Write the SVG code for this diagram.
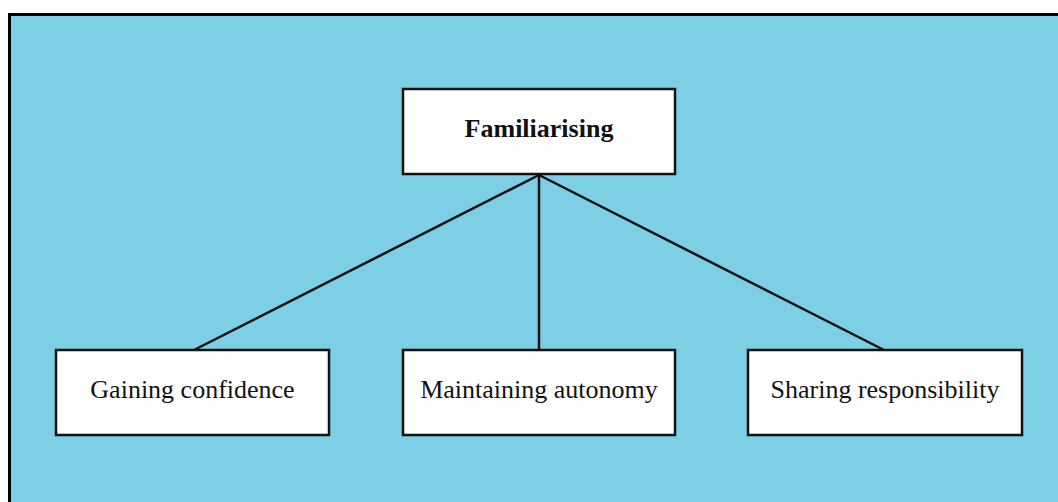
<svg xmlns="http://www.w3.org/2000/svg" width="1058" height="502" viewBox="0 0 1058 502">
  <style>
    .box { fill: #ffffff; stroke: #111111; stroke-width: 2.5; }
    .edge { stroke: #111111; stroke-width: 2.5; fill: none; }
    .lbl { font-family: "Liberation Serif", "Times New Roman", serif; font-size: 26px; fill: #111111; text-anchor: middle; }
    .title { font-weight: bold; }
  </style>
  <rect width="1058" height="502" fill="#ffffff"/>
  <!-- panel -->
  <rect x="9.5" y="14.5" width="1060" height="500" fill="#7ccfe4" stroke="#000000" stroke-width="3"/>
  <g id="connectors">
    <line class="edge" x1="539" y1="175" x2="194" y2="350"/>
    <line class="edge" x1="539" y1="175" x2="539" y2="350"/>
    <line class="edge" x1="539" y1="175" x2="884" y2="350"/>
  </g>
  <g id="familiarising">
    <rect class="box" x="403" y="89" width="272" height="85"/>
    <text class="lbl title" x="539" y="137">Familiarising</text>
  </g>
  <g id="gaining-confidence">
    <rect class="box" x="56" y="350" width="273" height="85"/>
    <text class="lbl" x="192.5" y="398">Gaining confidence</text>
  </g>
  <g id="maintaining-autonomy">
    <rect class="box" x="403" y="350" width="272" height="85"/>
    <text class="lbl" x="539" y="398">Maintaining autonomy</text>
  </g>
  <g id="sharing-responsibility">
    <rect class="box" x="748" y="350" width="274" height="85"/>
    <text class="lbl" x="885" y="398">Sharing responsibility</text>
  </g>
</svg>
